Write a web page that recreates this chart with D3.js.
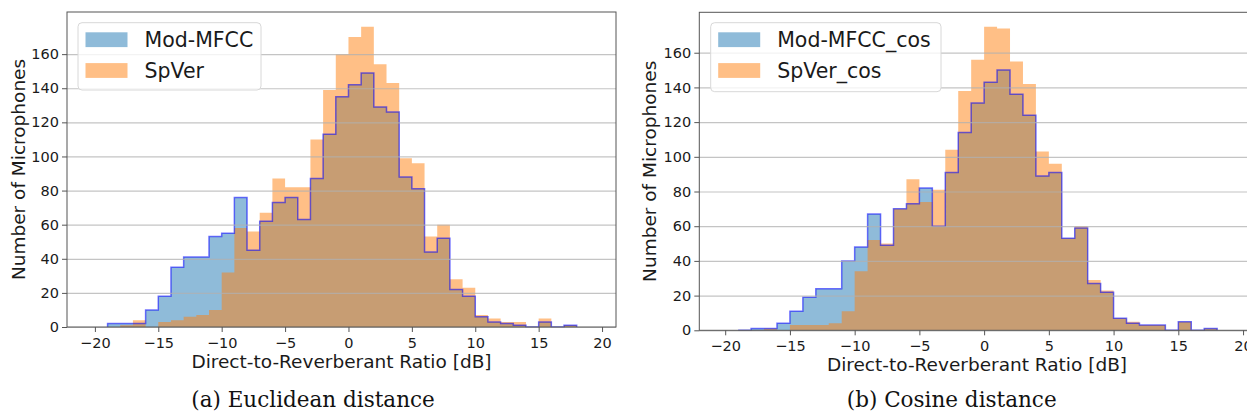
<!DOCTYPE html>
<html lang="en">
<head>
<meta charset="UTF-8">
<title>DRR histograms</title>
<style>
  body { margin: 0; background: #fff; }
  svg { display: block; font-family: "DejaVu Sans", sans-serif; }
</style>
</head>
<body>
<script src="https://d3js.org/d3.v7.min.js"></script>
<script>
// 1 dB bins, edges in dB
const binEdges = [-19, -18, -17, -16, -15, -14, -13, -12, -11, -10, -9, -8, -7, -6, -5, -4, -3, -2, -1,
  0, 1, 2, 3, 4, 5, 6, 7, 8, 9, 10, 11, 12, 13, 14, 15, 16, 17, 18];

// (a) Euclidean distance
const euclidMod = [2, 2, 2, 10, 18, 35, 41, 41, 53, 55, 76, 45, 62, 73, 76, 63, 87, 113, 135, 142,
  149, 129, 126, 88, 81, 44, 52, 22, 18, 6, 3, 2, 1, 0, 3, 0, 1];
const euclidSpVer = [0, 1, 4, 0, 3, 4, 6, 7, 10, 32, 58, 56, 67, 87, 82, 82, 110, 139, 160, 170,
  176, 154, 143, 99, 96, 53, 60, 28, 23, 7, 5, 3, 3, 0, 5, 0, 1];

// (b) Cosine distance
const cosineMod = [0, 1, 1, 4, 11, 19, 24, 24, 40, 48, 67, 49, 70, 73, 82, 60, 91, 114, 131, 143,
  150, 136, 124, 89, 91, 53, 59, 27, 22, 7, 4, 3, 3, 0, 5, 0, 1];
const cosineSpVer = [0, 0, 1, 0, 3, 3, 3, 4, 11, 34, 52, 50, 70, 87, 74, 81, 104, 138, 156, 175,
  174, 155, 142, 103, 96, 53, 60, 29, 23, 7, 5, 3, 3, 0, 5, 0, 1];

const xTicks = [-20, -15, -10, -5, 0, 5, 10, 15, 20];
const yTicks = [0, 20, 40, 60, 80, 100, 120, 140, 160];
const legendEuclid = ['Mod-MFCC', 'SpVer'];
const legendCosine = ['Mod-MFCC_cos', 'SpVer_cos'];
const captions = ['(a) Euclidean distance', '(b) Cosine distance'];
const xLabel = 'Direct-to-Reverberant Ratio [dB]';
const yLabel = 'Number of Microphones';

const BLUE = '#1f77b4';
const ORANGE = '#ff7f0e';

const svg = d3.select('body').append('svg')
  .attr('width', 1247)
  .attr('height', 417);

// panel boxes (pixels) and axis limits
const panels = [
  { left: 67, top: 12, right: 616, bottom: 327, xDomain: [-22.2, 21.1], yMax: 184.7,
    mod: euclidMod, sp: euclidSpVer, names: legendEuclid, caption: captions[0],
    legend: { x: 78, y: 22.7, w: 183, h: 67.3 }, ylabX: 24.5, captionX: 313 },
  { left: 699.3, top: 12.3, right: 1254.7, bottom: 330.3, xDomain: [-22.0, 20.9], yMax: 183.3,
    mod: cosineMod, sp: cosineSpVer, names: legendCosine, caption: captions[1],
    legend: { x: 710.7, y: 22.7, w: 230.3, h: 69 }, ylabX: 656, captionX: 951.7 }
];

const drawPanel = function (p) {
  const x = d3.scaleLinear().domain(p.xDomain).range([p.left, p.right]);
  const y = d3.scaleLinear().domain([0, p.yMax]).range([p.bottom, p.top]);
  const g = svg.append('g');

  const toPoints = counts => {
    const pts = counts.map((c, i) => ({ e: binEdges[i], c: c }));
    pts.push({ e: binEdges[binEdges.length - 1], c: counts[counts.length - 1] });
    return pts;
  };

  const area = d3.area()
    .curve(d3.curveStepAfter)
    .x(d => x(d.e))
    .y0(y(0))
    .y1(d => y(d.c));

  // filled histograms
  g.append('path')
    .datum(toPoints(p.mod))
    .attr('d', area)
    .attr('fill', BLUE)
    .attr('fill-opacity', 0.5);

  g.append('path')
    .datum(toPoints(p.sp))
    .attr('d', area)
    .attr('fill', ORANGE)
    .attr('fill-opacity', 0.5);

  // step outline of the Mod-MFCC counts
  const outline = toPoints(p.mod);
  outline.unshift({ e: binEdges[0], c: 0 });
  outline.push({ e: binEdges[binEdges.length - 1], c: 0 });
  g.append('path')
    .datum(outline)
    .attr('d', d3.line().curve(d3.curveStepAfter).x(d => x(d.e)).y(d => y(d.c)))
    .attr('fill', 'none')
    .attr('stroke', 'blue')
    .attr('stroke-opacity', 0.55)
    .attr('stroke-width', 1.5);

  // horizontal grid
  g.append('g')
    .attr('transform', `translate(${p.left},0)`)
    .call(d3.axisLeft(y).tickValues(yTicks).tickSize(-(p.right - p.left)).tickFormat(''))
    .call(s => s.select('.domain').remove())
    .selectAll('line')
    .attr('stroke', '#b0b0b0')
    .attr('stroke-opacity', 0.75)
    .attr('stroke-width', 1.2);

  // spines
  g.append('rect')
    .attr('x', p.left)
    .attr('y', p.top)
    .attr('width', p.right - p.left)
    .attr('height', p.bottom - p.top)
    .attr('fill', 'none')
    .attr('stroke', '#555')
    .attr('stroke-width', 1);

  // axes
  const yAxis = g.append('g')
    .attr('transform', `translate(${p.left},0)`)
    .call(d3.axisLeft(y).tickValues(yTicks).tickSize(5).tickPadding(3));
  const xAxis = g.append('g')
    .attr('transform', `translate(0,${p.bottom})`)
    .call(d3.axisBottom(x).tickValues(xTicks).tickSize(5).tickPadding(5.5));
  [yAxis, xAxis].forEach(a => {
    a.select('.domain').remove();
    a.selectAll('line').attr('stroke', '#555');
    a.selectAll('text')
      .attr('fill', '#1a1a1a')
      .style('font-family', '"DejaVu Sans", sans-serif')
      .style('font-size', '14.5px');
  });

  // axis labels
  g.append('text')
    .attr('x', (p.left + p.right) / 2)
    .attr('y', p.bottom + 41)
    .attr('text-anchor', 'middle')
    .attr('fill', '#1a1a1a')
    .style('font-size', '18.5px')
    .text(xLabel);

  g.append('text')
    .attr('transform', `translate(${p.ylabX},${(p.top + p.bottom) / 2}) rotate(-90)`)
    .attr('text-anchor', 'middle')
    .attr('fill', '#1a1a1a')
    .style('font-size', '18.5px')
    .text(yLabel);

  // legend
  const L = p.legend;
  const lg = g.append('g');
  lg.append('rect')
    .attr('x', L.x)
    .attr('y', L.y)
    .attr('width', L.w)
    .attr('height', L.h)
    .attr('rx', 4)
    .attr('fill', '#fff')
    .attr('fill-opacity', 0.8)
    .attr('stroke', '#d8d8d8');
  [BLUE, ORANGE].forEach((c, i) => {
    const top = L.y + 9.6 + i * 30.8;
    lg.append('rect')
      .attr('x', L.x + 7.5)
      .attr('y', top)
      .attr('width', 42)
      .attr('height', 14.8)
      .attr('fill', c)
      .attr('fill-opacity', 0.5);
    lg.append('text')
      .attr('x', L.x + 66.5)
      .attr('y', top + 14.5)
      .attr('fill', '#1a1a1a')
      .style('font-size', '20.5px')
      .text(p.names[i]);
  });

  // sub-caption
  g.append('text')
    .attr('x', p.captionX)
    .attr('y', 406.5)
    .attr('text-anchor', 'middle')
    .attr('fill', '#111')
    .style('font-family', '"DejaVu Serif", serif')
    .style('font-size', '21.5px')
    .text(p.caption);
};

panels.forEach(drawPanel);
</script>
</body>
</html>
